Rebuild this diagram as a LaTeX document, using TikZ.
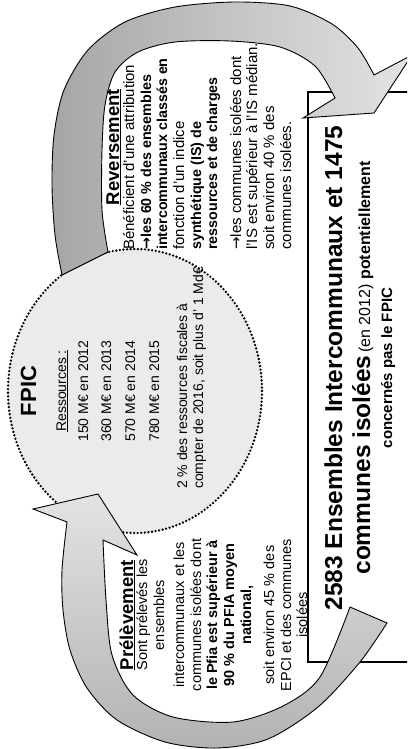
\documentclass[tikz,border=0pt]{standalone}
\usepackage{fontspec}
\setmainfont{Liberation Sans}
\newfontfamily\djv{DejaVu Sans}
\newcommand{\fs}[1]{\fontsize{#1}{#1}\selectfont}
\begin{document}
\begin{tikzpicture}[x=1pt,y=-1pt,
  lbl/.style={rotate=90, inner sep=0pt, font=\fs{14}},
  rlbl/.style={rotate=90, inner sep=0pt, font=\fs{15}},
  rbld/.style={rotate=90, inner sep=0pt, font=\fs{14.3}\bfseries},
  plbl/.style={rotate=90, inner sep=0pt, font=\fs{14.5}},
  pbld/.style={rotate=90, inner sep=0pt, font=\fs{14.5}\bfseries},
  ttl/.style={rotate=90, inner sep=0pt, font=\fs{18.5}\bfseries},
  band/.style={draw=black, line width=0.9pt, line join=miter},
  dotline/.style={draw=black, line width=2.6pt, line cap=round, dash pattern=on 0pt off 3.6pt}]
\useasboundingbox (0,0) rectangle (407,749);
\clip (0,0) rectangle (407,749);
% FPIC ellipse
\path[fill=gray!16] (135,391) ellipse [x radius=127, y radius=142];
\path[dotline] (135,391) ellipse [x radius=127, y radius=142];
% banner box
\draw[line width=2pt, fill=white] (308,92) rectangle (430,662);
% Reversement arrow
\path[band, left color=gray!70, right color=gray!22]
  (108,252) -- (62,275) -- plot[smooth] coordinates {(62,275) (55,235) (52,185) (54,135) (64,90) (88,50) (125,22) (175,7) (235,2) (290,6) (332,24) (358,48) (374,75)}
  -- (412,55) -- (374,113) -- (303,118) -- (335,98)
  -- plot[smooth] coordinates {(335,98) (315,66) (280,47) (230,41) (175,42) (138,52) (115,72) (105,105) (102,150) (102,210) (108,252)} -- cycle;
% Prelevement arrow
\path[band, top color=gray!22, bottom color=gray!60]
  (350,607) -- (387,623) -- plot[smooth] coordinates {(387,623) (360,662) (318,707) (268,739) (217,748) (165,742) (117,720) (87,688) (70,650) (63,610) (62,570) (67,522)}
  -- (33,509) -- (98,494) -- (137,555) -- (103,540)
  -- plot[smooth] coordinates {(103,540) (106,600) (112,655) (133,695) (173,717) (233,722) (283,706) (320,677) (350,607)} -- cycle;
% FPIC texts
\node[rotate=90, inner sep=0pt, anchor=base, font=\fs{22}\bfseries] (fpic) at (36,391) {FPIC};
\node[lbl, anchor=base] (res) at (66,391) {\underline{Ressources :}};
\node[lbl, anchor=base] (r12) at (88,391) {150 M€ en 2012};
\node[lbl, anchor=base] (r13) at (111,391) {360 M€ en 2013};
\node[lbl, anchor=base] (r14) at (135,391) {570 M€ en 2014};
\node[lbl, anchor=base] (r15) at (159,391) {780 M€ en 2015};
\node[lbl, anchor=base west] (r16a) at (187,489) {2 \% des ressources fiscales à};
\node[lbl, anchor=base west] (r16b) at (203,489) {compter de 2016, soit plus d’ 1 Md€};
% Reversement texts
\node[ttl, anchor=base] (revt) at (119,147) {\underline{Reversement}};
\node[rlbl, anchor=base west] (rv1) at (134,250) {Bénéficient d’une attribution};
\node[rbld, anchor=base west] (rv2) at (151,250) {{\djv →}les 60 \% des ensembles};
\node[rbld, anchor=base west] (rv3) at (167,250) {intercommunaux classés en};
\node[rlbl, anchor=base west] (rv4) at (184,250) {fonction d’un indice};
\node[rbld, anchor=base west] (rv5) at (201,250) {synthétique (IS) de};
\node[rbld, anchor=base west] (rv6) at (217,250) {ressources et de charges};
\node[rlbl, anchor=base west] (rv7) at (241,250) {{\djv →}les communes isolées dont};
\node[rlbl, anchor=base west] (rv8) at (257,250) {l’IS est supérieur à l’IS médian.};
\node[rlbl, anchor=base west] (rv9) at (274,250) {soit environ 40 \% des};
\node[rlbl, anchor=base west] (rv10) at (291,250) {communes isolées.};
% Prelevement texts
\node[ttl, anchor=base] (prt) at (133,615) {\underline{Prélèvement}};
\node[plbl, anchor=base] (p1) at (147,615) {Sont prélevés les};
\node[plbl, anchor=base] (p2) at (164,615) {ensembles};
\node[plbl, anchor=base] (p3) at (184,615) {intercommunaux et les};
\node[plbl, anchor=base] (p4) at (201,615) {communes isolées dont};
\node[pbld, anchor=base] (p5) at (217,615) {le Pfia est supérieur à};
\node[pbld, anchor=base] (p6) at (234,615) {90 \% du PFIA moyen};
\node[pbld, anchor=base] (p7) at (251,615) {national,};
\node[plbl, anchor=base] (p8) at (274,615) {soit environ 45 \% des};
\node[plbl, anchor=base] (p9) at (291,615) {EPCI et des communes};
\node[plbl, anchor=base] (p10) at (307,615) {isolées};
% Banner texts
\node[rotate=90, inner sep=0pt, anchor=base, font=\fs{24.5}\bfseries] (b1) at (342,368) {2583 Ensembles Intercommunaux et 1475};
\node[rotate=90, inner sep=0pt, anchor=base] (b2) at (370,368) {{\fs{24.5}\bfseries communes isolées} {\fs{16}(en 2012) \bfseries potentiellement}};
\node[rotate=90, inner sep=0pt, anchor=base, font=\fs{15}\bfseries] (b3) at (392,368) {concernés pas le FPIC};
\end{tikzpicture}
\end{document}
